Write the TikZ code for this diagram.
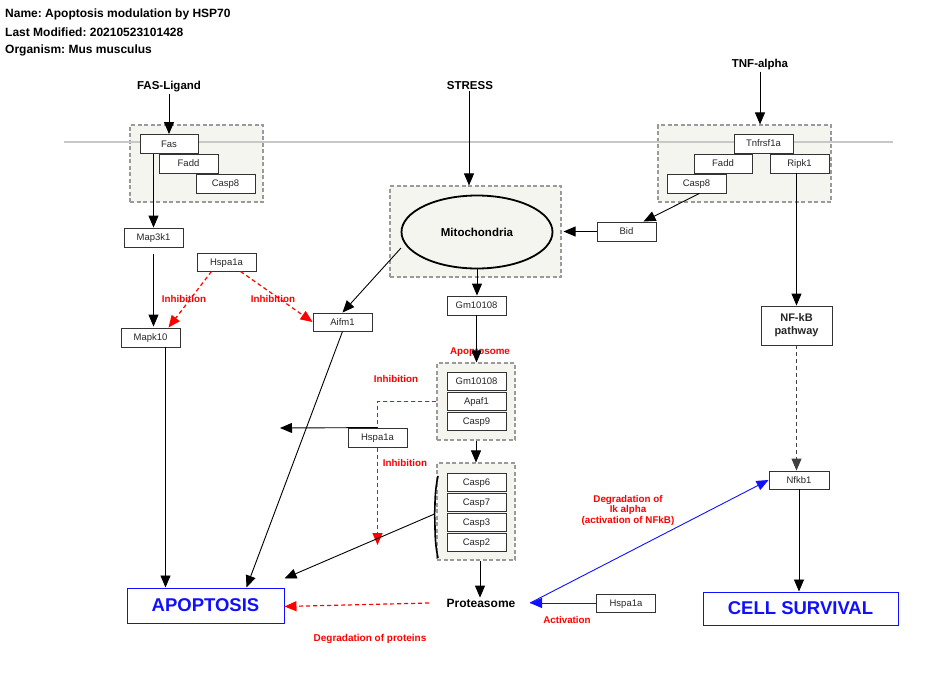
\documentclass[tikz,border=0pt]{standalone}
\usepackage{fontspec}
\setmainfont{Liberation Sans}
\usetikzlibrary{arrows.meta,shapes.geometric}
\definecolor{grpfill}{HTML}{F5F5EF}
\definecolor{grpdraw}{HTML}{9A9A9A}
\definecolor{memb}{HTML}{C8C8C8}
\definecolor{inhred}{HTML}{FF0000}
\definecolor{actblue}{HTML}{1010FF}
\frenchspacing
\pgfdeclarelayer{bglayer}
\pgfsetlayers{bglayer,main}
\tikzset{
  x=1pt,y=-1pt,
  gene/.style={draw=black!80, fill=white, line width=0.9pt, minimum width=59pt, minimum height=19pt, inner sep=0pt, font=\fontsize{9.5}{10}\selectfont, text=black!85, text height=6.8pt, text depth=0.6pt},
  grp/.style={draw=grpdraw, fill=grpfill, dash pattern=on 4pt off 2.5pt, line width=1.1pt, inner sep=0pt},
  lbl/.style={font=\fontsize{11.5}{13}\selectfont\bfseries, inner sep=1pt},
  hdr/.style={font=\fontsize{12}{13}\selectfont\bfseries, anchor=west, inner sep=0pt},
  redlbl/.style={font=\fontsize{9.8}{11}\selectfont\bfseries, text=inhred, inner sep=0pt, align=center},
  outcome/.style={draw=actblue, line width=1pt, fill=white, text=actblue, font=\fontsize{18.5}{20}\selectfont\bfseries, inner sep=0pt},
  arr/.style={draw=black, line width=0.9pt, -{Triangle[length=12pt,width=10pt]}},
  inh/.style={draw=inhred, line width=1.2pt, dash pattern=on 4pt off 3pt, -{Triangle[length=12pt,width=10pt]}},
  act/.style={draw=actblue, line width=0.9pt, -{Triangle[length=12pt,width=10pt]}},
}
\begin{document}
\begin{tikzpicture}
\useasboundingbox (0,0) rectangle (930,678);
% header
\node[hdr] (h1) at (5,14) {Name: Apoptosis modulation by HSP70};
\node[hdr] (h2) at (5,32) {Last Modified: 20210523101428};
\node[hdr] (h3) at (5,50) {Organism: Mus musculus};

% groups
\node[grp, minimum width=133pt, minimum height=77pt] (fasgrp) at (196.5,163.5) {};
\node[grp, minimum width=173pt, minimum height=77pt] (tnfgrp) at (744.5,163.5) {};
\node[grp, minimum width=171pt, minimum height=91pt] (mitogrp) at (475.5,231.5) {};
\node[grp, minimum width=78pt, minimum height=77pt] (apoptgrp) at (476,401.5) {};
\node[grp, minimum width=78pt, minimum height=97pt] (caspgrp) at (476,511.5) {};

% membrane
\coordinate (m1) at (64,142);
\coordinate (m2) at (893,142);
\draw[memb, line width=1.5pt] (m1) -- (m2);

% labels
\node[lbl] (fasl) at (169,87) {FAS-Ligand};
\node[lbl] (stress) at (470,86) {STRESS};
\node[lbl] (tnf) at (760,65) {TNF-alpha};

% Fas complex
\node[gene, minimum width=58pt] (fas) at (169,144) {Fas};
\node[gene] (fadd1) at (188.5,163.5) {Fadd};
\node[gene] (casp8a) at (225.5,183.5) {Casp8};

% TNF complex
\node[gene] (tnfr) at (763.5,143.5) {Tnfrsf1a};
\node[gene, minimum width=58pt] (fadd2) at (723,163.5) {Fadd};
\node[gene] (ripk1) at (799.5,163.5) {Ripk1};
\node[gene] (casp8b) at (696.5,183.5) {Casp8};

% left column
\node[gene] (map3k1) at (153.5,237.5) {Map3k1};
\node[gene] (mapk10) at (150.5,337.5) {Mapk10};
\node[gene, minimum height=18pt] (hspa1) at (226.5,262) {Hspa1a};
\node[gene, minimum height=18pt] (aifm1) at (342.5,322) {Aifm1};

% mitochondria
\node[ellipse, draw=black, line width=1.8pt, fill=grpfill, minimum width=151pt, minimum height=73pt, font=\fontsize{11.5}{13}\selectfont\bfseries] (mito) at (477,232) {Mitochondria};
\node[gene] (bid) at (626.5,231.5) {Bid};
\node[gene] (gm1) at (476.5,305.5) {Gm10108};

% apoptosome
\node[gene, minimum height=18pt] (gm2) at (476.5,381) {Gm10108};
\node[gene, minimum height=18pt] (apaf1) at (476.5,401) {Apaf1};
\node[gene, minimum height=18pt] (casp9) at (476.5,421) {Casp9};
\node[redlbl] (apolbl) at (480,352) {Apoptosome};

% caspases
\node[gene, minimum height=18pt] (casp6) at (476.5,482) {Casp6};
\node[gene, minimum height=18pt] (casp7) at (476.5,502) {Casp7};
\node[gene, minimum height=18pt] (casp3) at (476.5,522) {Casp3};
\node[gene, minimum height=18pt] (casp2) at (476.5,542) {Casp2};

\node[gene] (hspa2) at (377.5,437.5) {Hspa1a};
\node[lbl, font=\fontsize{12}{13}\selectfont\bfseries] (prot) at (481,603) {Proteasome};
\node[gene, minimum height=18pt] (hspa3) at (626,603) {Hspa1a};

% right column
\node[gene, minimum width=71pt, minimum height=39pt, align=center, text height=, text depth=, font=\fontsize{11}{13}\selectfont\bfseries] (nfkbp) at (796.5,325.5) {NF-kB\\pathway};
\node[gene, minimum width=60pt, minimum height=18pt] (nfkb1) at (799,480) {Nfkb1};

% outcomes
\node[outcome, minimum width=157pt, minimum height=35pt] (apop) at (205.5,605.5) {APOPTOSIS};
\node[outcome, minimum width=195pt, minimum height=33pt] (surv) at (800.5,608.5) {CELL SURVIVAL};

% red labels
\node[redlbl] (i1) at (184,299) {Inhibition};
\node[redlbl] (i2) at (273,299) {Inhibition};
\node[redlbl] (i3) at (396,379) {Inhibition};
\node[redlbl] (i4) at (405,463) {Inhibition};
\node[redlbl, font=\fontsize{10}{11}\selectfont\bfseries] (deg) at (370,639) {Degradation of proteins};
\node[redlbl] (actl) at (567,620) {Activation};
\node[redlbl, font=\fontsize{9.8}{10.5}\selectfont\bfseries] (ik) at (628,510) {Degradation of\\Ik alpha\\(activation of NFkB)};

% bracket on caspase group
\coordinate (bt) at (438,476);
\coordinate (bm) at (434.5,514);
\coordinate (bb) at (438,558);
\draw[black, line width=1.6pt] (bt) .. controls (434,495) and (435.5,505) .. (bm) .. controls (435.5,525) and (434,540) .. (bb);

% proteasome ends
\coordinate (pw) at (429,603);
\coordinate (pe) at (530,603);

% connectors
\draw[arr] (fasl.south) -- (fas.north);
\draw[arr] (map3k1.north |- fas.south) -- (map3k1.north);
\draw[arr, shorten <=7pt, shorten >=1pt] (map3k1.south) -- (map3k1.south |- mapk10.north);
\draw[inh] ([xshift=-15pt]hspa1.south) -- ([xshift=18pt]mapk10.north);
\draw[inh] ([xshift=14pt]hspa1.south) -- (aifm1.west);
\coordinate (mitoout) at (401,248);
\draw[arr] (mitoout) -- (aifm1.north);
\draw[arr] (aifm1.south) -- ([xshift=41pt]apop.north);
\draw[arr] ([xshift=15pt]mapk10.south) -- ([xshift=15pt]mapk10.south |- apop.north);
\draw[arr] ([xshift=-1pt]stress.south) -- ([xshift=-6.5pt]mitogrp.north);
\draw[arr] (bid.west) -- ([xshift=2pt]mitogrp.east);
\draw[arr] ([xshift=3pt]casp8b.south) -- ([xshift=17pt]bid.north);
\draw[arr] (mito.south) -- (mito.south |- gm1.north);
\draw[arr] (gm1.south) -- (gm1.south |- apoptgrp.north);
\draw[arr] (apoptgrp.south) -- (caspgrp.north);
\draw[arr] ([xshift=4pt]caspgrp.south) -- ([xshift=4pt]caspgrp.south |- prot.north);
\draw[arr] (bm) -- ([yshift=9pt]apop.north east);
\coordinate (hl) at (280,428);
\draw[arr] (hspa2.north) -- (hl);
\coordinate (inhb) at (377.5,545);
\begin{pgfonlayer}{bglayer}
\draw[inh] (apoptgrp.west) -| (inhb);
\end{pgfonlayer}
\draw[inh] (pw) -- ([yshift=-1pt]apop.east);
\draw[act] (hspa3.west) -- (pe);
\draw[act] (pe) -- (nfkb1.west);
\draw[arr] (tnf.south) -- (tnf.south |- tnfgrp.north);
\draw[arr] ([xshift=-3pt]ripk1.south) -- (nfkbp.north);
\draw[arr, draw=black!75, dash pattern=on 4pt off 3pt] (nfkbp.south) -- (nfkbp.south |- nfkb1.north);
\draw[arr] (nfkb1.south) -- (nfkb1.south |- surv.north);
\end{tikzpicture}
\end{document}
